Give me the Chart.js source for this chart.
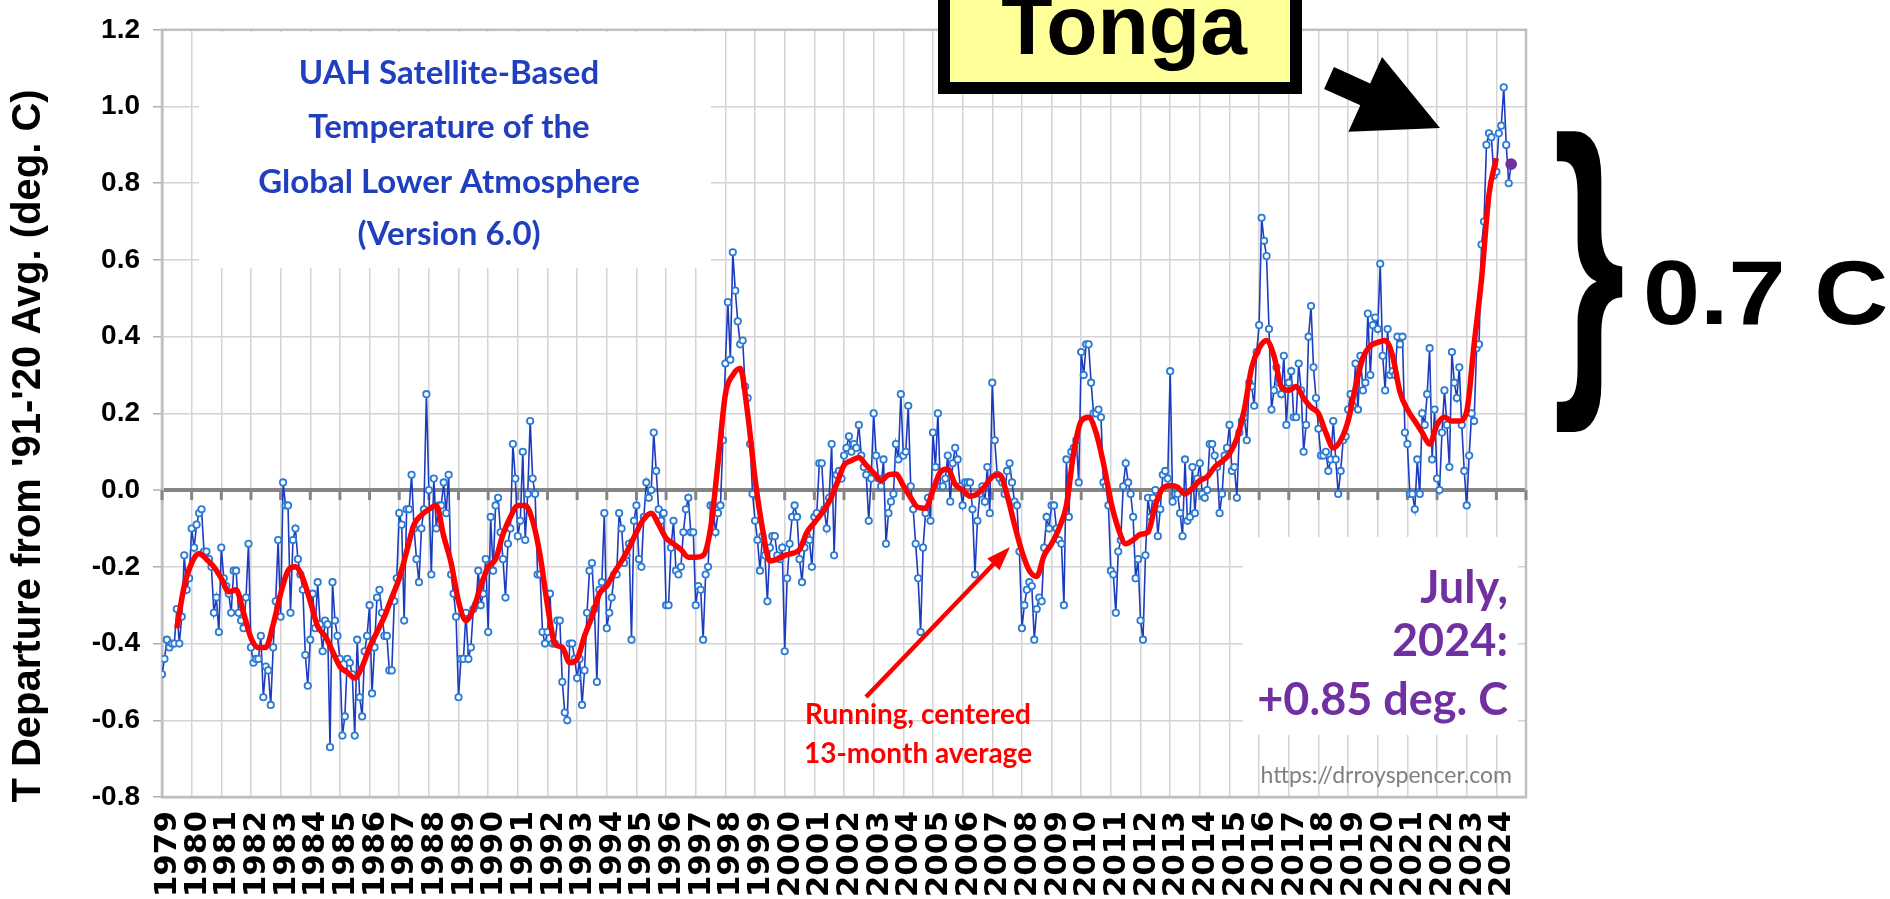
<!DOCTYPE html>
<html>
<head>
<meta charset="utf-8">
<script src="https://cdn.jsdelivr.net/npm/chart.js@4.4.1/dist/chart.umd.min.js"></script>
<style>
  html,body{margin:0;padding:0;background:#fff;overflow:hidden}
  #wrap{width:1890px;height:899px;position:relative}
</style>
</head>
<body>
<div id="wrap"><canvas id="uah" width="1890" height="899"></canvas></div>
<script>
(function(){
  // monthly global LT anomalies, deg C vs 1991-2020
  var uah1979to1989 = [
    -0.48,-0.44,-0.39,-0.41,-0.40,-0.40,-0.31,-0.40,-0.33,-0.17,-0.26,-0.23, // 1979
    -0.10,-0.15,-0.09,-0.06,-0.05,-0.16,-0.16,-0.18,-0.20,-0.32,-0.28,-0.37, // 1980
    -0.15,-0.23,-0.25,-0.27,-0.32,-0.21,-0.21,-0.32,-0.34,-0.36,-0.28,-0.14, // 1981
    -0.41,-0.45,-0.44,-0.44,-0.38,-0.54,-0.46,-0.47,-0.56,-0.41,-0.29,-0.13, // 1982
    -0.33, 0.02,-0.04,-0.04,-0.32,-0.13,-0.10,-0.18,-0.22,-0.26,-0.43,-0.51, // 1983
    -0.39,-0.27,-0.36,-0.24,-0.35,-0.42,-0.34,-0.35,-0.67,-0.24,-0.34,-0.38, // 1984
    -0.44,-0.64,-0.59,-0.44,-0.45,-0.48,-0.64,-0.39,-0.54,-0.59,-0.42,-0.38, // 1985
    -0.30,-0.53,-0.41,-0.28,-0.26,-0.32,-0.38,-0.38,-0.47,-0.47,-0.29,-0.23, // 1986
    -0.06,-0.09,-0.34,-0.05,-0.05, 0.04,-0.10,-0.18,-0.24,-0.10,-0.05, 0.25, // 1987
     0.00,-0.22, 0.03,-0.10,-0.04,-0.04, 0.02,-0.06, 0.04,-0.22,-0.27,-0.33, // 1988
    -0.54,-0.44,-0.44,-0.32,-0.44,-0.41,-0.31,-0.30,-0.21,-0.30,-0.27,-0.18  // 1989
  ];
  var uah1990to1999 = [
    -0.37,-0.07,-0.21,-0.04,-0.02,-0.11,-0.18,-0.28,-0.14,-0.10, 0.12, 0.03, // 1990
    -0.12,-0.08, 0.10,-0.13,-0.01, 0.18, 0.03,-0.01,-0.22,-0.22,-0.37,-0.40, // 1991
    -0.37,-0.27,-0.40,-0.40,-0.34,-0.34,-0.50,-0.58,-0.60,-0.40,-0.40,-0.44, // 1992
    -0.49,-0.44,-0.56,-0.47,-0.32,-0.21,-0.19,-0.31,-0.50,-0.26,-0.24,-0.06, // 1993
    -0.36,-0.32,-0.28,-0.22,-0.22,-0.06,-0.10,-0.19,-0.17,-0.14,-0.39,-0.08, // 1994
    -0.04,-0.18,-0.20,-0.07, 0.02,-0.02, 0.00, 0.15, 0.05,-0.05,-0.08,-0.06, // 1995
    -0.30,-0.30,-0.15,-0.08,-0.21,-0.22,-0.20,-0.11,-0.05,-0.02,-0.11,-0.11, // 1996
    -0.30,-0.25,-0.26,-0.39,-0.22,-0.20,-0.04,-0.04,-0.11,-0.06,-0.04, 0.13, // 1997
     0.33, 0.49, 0.34, 0.62, 0.52, 0.44, 0.38, 0.39, 0.27, 0.24, 0.12,-0.01, // 1998
    -0.08,-0.13,-0.21,-0.12,-0.17,-0.29,-0.15,-0.12,-0.12,-0.17,-0.18,-0.15  // 1999
  ];
  var uah2000to2009 = [
    -0.42,-0.23,-0.14,-0.07,-0.04,-0.07,-0.18,-0.24,-0.15,-0.12,-0.13,-0.20, // 2000
    -0.07,-0.06, 0.07, 0.07,-0.05,-0.10,-0.02, 0.12,-0.17, 0.04, 0.05, 0.03, // 2001
     0.09, 0.11, 0.14, 0.10, 0.12, 0.11, 0.17, 0.09, 0.06, 0.04,-0.08, 0.03, // 2002
     0.20, 0.09, 0.03, 0.01, 0.08,-0.14,-0.06,-0.03,-0.01, 0.12, 0.08, 0.25, // 2003
     0.09, 0.10, 0.22, 0.01,-0.05,-0.14,-0.23,-0.37,-0.15,-0.06,-0.02,-0.08, // 2004
     0.15, 0.06, 0.20, 0.01, 0.01, 0.03, 0.09,-0.03, 0.07, 0.11, 0.08, 0.01, // 2005
    -0.04, 0.02, 0.02, 0.02,-0.05,-0.22,-0.08,-0.01, 0.01,-0.03, 0.06,-0.06, // 2006
     0.28, 0.13, 0.04, 0.03, 0.02,-0.01, 0.05, 0.07, 0.02,-0.03,-0.04,-0.16, // 2007
    -0.36,-0.30,-0.26,-0.24,-0.25,-0.39,-0.31,-0.28,-0.29,-0.15,-0.07,-0.10, // 2008
    -0.04,-0.04,-0.10,-0.13,-0.14,-0.30, 0.08,-0.07, 0.10, 0.11, 0.13, 0.02  // 2009
  ];
  var uah2010to2019 = [
     0.36, 0.30, 0.38, 0.38, 0.28, 0.20, 0.20, 0.21, 0.19, 0.02, 0.01,-0.04, // 2010
    -0.21,-0.22,-0.32,-0.16,-0.13, 0.01, 0.07, 0.02,-0.01,-0.07,-0.23,-0.18, // 2011
    -0.34,-0.39,-0.17,-0.02,-0.07,-0.02, 0.00,-0.12,-0.05, 0.04, 0.05, 0.03, // 2012
     0.31,-0.03,-0.01,-0.01,-0.06,-0.12, 0.08,-0.08,-0.07, 0.06,-0.06, 0.03, // 2013
     0.07,-0.01,-0.02, 0.00, 0.12, 0.12, 0.09, 0.06,-0.06,-0.01, 0.09, 0.11, // 2014
     0.17, 0.05, 0.06,-0.02, 0.15, 0.18, 0.19, 0.13, 0.28, 0.27, 0.22, 0.36, // 2015
     0.43, 0.71, 0.65, 0.61, 0.42, 0.21, 0.26, 0.32, 0.28, 0.25, 0.35, 0.17, // 2016
     0.28, 0.31, 0.19, 0.19, 0.33, 0.26, 0.10, 0.17, 0.40, 0.48, 0.32, 0.24, // 2017
     0.16, 0.09, 0.09, 0.10, 0.05, 0.08, 0.18, 0.08,-0.01, 0.05, 0.13, 0.14, // 2018
     0.21, 0.25, 0.22, 0.33, 0.21, 0.35, 0.26, 0.28, 0.46, 0.30, 0.43, 0.45  // 2019
  ];
  var uah2020to2024 = [
     0.42, 0.59, 0.35, 0.26, 0.42, 0.30, 0.31, 0.30, 0.40, 0.38, 0.40, 0.15, // 2020
     0.12,-0.01,-0.01,-0.05, 0.08,-0.01, 0.20, 0.17, 0.25, 0.37, 0.08, 0.21, // 2021
     0.03, 0.00, 0.15, 0.26, 0.17, 0.06, 0.36, 0.28, 0.24, 0.32, 0.17, 0.05, // 2022
    -0.04, 0.09, 0.20, 0.18, 0.37, 0.38, 0.64, 0.70, 0.90, 0.93, 0.92, 0.82, // 2023
     0.83, 0.93, 0.95, 1.05, 0.90, 0.80, 0.85                                // 2024 Jan-Jul
  ];
  // red curve (running, centered 13-month average), read every 3 months: Jan/Apr/Jul/Oct, from Jul 1979
  var runningMean13 = [
                  -0.36,-0.25,   // 1979
    -0.19,-0.165,-0.18,-0.20,    // 1980
    -0.23,-0.265,-0.26,-0.32,    // 1981
    -0.385,-0.41,-0.41,-0.35,    // 1982
    -0.27,-0.21,-0.20,-0.23,     // 1983
    -0.29,-0.355,-0.38,-0.42,    // 1984
    -0.46,-0.475,-0.49,-0.46,    // 1985
    -0.41,-0.37,-0.33,-0.28,     // 1986
    -0.23,-0.16,-0.09,-0.065,    // 1987
    -0.05,-0.04,-0.12,-0.19,     // 1988
    -0.29,-0.34,-0.31,-0.25,     // 1989
    -0.20,-0.18,-0.115,-0.07,    // 1990
    -0.04,-0.04,-0.08,-0.17,     // 1991
    -0.30,-0.40,-0.41,-0.45,     // 1992
    -0.44,-0.38,-0.33,-0.27,     // 1993
    -0.25,-0.215,-0.185,-0.15,   // 1994
    -0.11,-0.075,-0.06,-0.09,    // 1995
    -0.125,-0.14,-0.155,-0.175,  // 1996
    -0.175,-0.17,-0.10,0.07,     // 1997
    0.25,0.30,0.317,0.20,        // 1998
    0.03,-0.10,-0.185,-0.18,     // 1999
    -0.17,-0.165,-0.155,-0.11,   // 2000
    -0.085,-0.06,-0.03,0.015,    // 2001
    0.065,0.077,0.085,0.065,     // 2002
    0.045,0.025,0.04,0.042,      // 2003
    0.012,-0.02,-0.045,-0.047,   // 2004
    0.0,0.047,0.055,0.015,       // 2005
    0.0,-0.016,-0.01,0.01,       // 2006
    0.035,0.04,-0.013,-0.09,     // 2007
    -0.16,-0.21,-0.225,-0.17,    // 2008
    -0.14,-0.10,-0.04,0.10,      // 2009
    0.18,0.19,0.15,0.07,         // 2010
    -0.03,-0.10,-0.14,-0.13,     // 2011
    -0.115,-0.11,-0.04,0.005,    // 2012
    0.012,0.008,-0.01,0.005,     // 2013
    0.025,0.035,0.06,0.075,      // 2014
    0.095,0.135,0.21,0.32,       // 2015
    0.37,0.39,0.35,0.27,         // 2016
    0.26,0.27,0.24,0.216,        // 2017
    0.20,0.15,0.11,0.13,         // 2018
    0.18,0.27,0.345,0.376,       // 2019
    0.385,0.39,0.35,0.256,       // 2020
    0.21,0.18,0.15,0.12,         // 2021
    0.17,0.19,0.18,0.18,         // 2022
    0.205,0.38,0.55,0.77,        // 2023
    0.865                        // 2024 Jan
  ];
  var years = [1979,1980,1981,1982,1983,1984,1985,1986,1987,1988,1989,1990,1991,1992,1993,1994,
    1995,1996,1997,1998,1999,2000,2001,2002,2003,2004,2005,2006,2007,2008,2009,2010,2011,2012,
    2013,2014,2015,2016,2017,2018,2019,2020,2021,2022,2023,2024];
  var yTicks = [-0.8,-0.6,-0.4,-0.2,0,0.2,0.4,0.6,0.8,1.0,1.2];
  var titleLines = ['UAH Satellite-Based','Temperature of the','Global Lower Atmosphere','(Version 6.0)'];
  var latestLines = ['July,','2024:','+0.85 deg. C'];

  var monthly = [].concat(uah1979to1989, uah1990to1999, uah2000to2009, uah2010to2019, uah2020to2024);
  var bluePts = monthly.map(function(v,i){ return {x: 1979 + i/12, y: v}; });
  var redPts = runningMean13.map(function(v,i){ return {x: 1979.5 + i/4, y: v}; });
  var lastIdx = bluePts.length - 1;

  function arrow(ctx, x1, y1, x2, y2, shaftW, headL, headW, color){
    var dx = x2-x1, dy = y2-y1, len = Math.sqrt(dx*dx+dy*dy);
    var ux = dx/len, uy = dy/len, nx = -uy, ny = ux;
    var bx = x2 - ux*headL, by = y2 - uy*headL;
    ctx.fillStyle = color;
    ctx.beginPath();
    ctx.moveTo(x1 + nx*shaftW/2, y1 + ny*shaftW/2);
    ctx.lineTo(bx + nx*shaftW/2, by + ny*shaftW/2);
    ctx.lineTo(bx + nx*headW/2, by + ny*headW/2);
    ctx.lineTo(x2, y2);
    ctx.lineTo(bx - nx*headW/2, by - ny*headW/2);
    ctx.lineTo(bx - nx*shaftW/2, by - ny*shaftW/2);
    ctx.lineTo(x1 - nx*shaftW/2, y1 - ny*shaftW/2);
    ctx.closePath();
    ctx.fill();
  }

  var decor = {
    id: 'decor',
    beforeDatasetsDraw: function(chart){
      var ctx = chart.ctx, a = chart.chartArea, xs = chart.scales.x, ys = chart.scales.y;
      ctx.save();
      // white boxes behind the in-plot notes
      ctx.fillStyle = '#fff';
      ctx.fillRect(199, a.top + 2, 711 - 199, 268 - a.top - 2);
      ctx.fillRect(1243, 537, 1518 - 1243, 735 - 537);
      // right + top frame
      ctx.strokeStyle = '#bfbfbf'; ctx.lineWidth = 2.5;
      ctx.strokeRect(a.left, a.top, a.right - a.left, a.bottom - a.top);
      // little year ticks hanging under the zero line
      var y0 = ys.getPixelForValue(0);
      ctx.strokeStyle = '#858585'; ctx.lineWidth = 3;
      years.concat([2025]).forEach(function(yr){
        var x = xs.getPixelForValue(yr);
        ctx.beginPath(); ctx.moveTo(x, y0); ctx.lineTo(x, y0 + 10); ctx.stroke();
      });
      ctx.restore();
    },
    afterDraw: function(chart){
      var ctx = chart.ctx;
      ctx.save();
      // y axis title
      ctx.save();
      ctx.translate(29, 446); ctx.rotate(-Math.PI/2);
      ctx.font = 'bold 40px "Liberation Sans", Arial, sans-serif';
      ctx.fillStyle = '#000'; ctx.textAlign = 'center'; ctx.textBaseline = 'middle';
      ctx.fillText("T Departure from '91-'20 Avg. (deg. C)", 0, 0);
      ctx.restore();

      // title
      ctx.font = 'bold 33px Lato, "Open Sans", sans-serif';
      ctx.fillStyle = '#1f3fbf'; ctx.textAlign = 'center'; ctx.textBaseline = 'alphabetic';
      [84, 138, 193, 245].forEach(function(y, i){ ctx.fillText(titleLines[i], 449, y); });

      // latest value
      ctx.font = 'bold 45px Lato, "Open Sans", sans-serif';
      ctx.fillStyle = '#7030a0'; ctx.textAlign = 'right';
      [603, 656, 715].forEach(function(y, i){ ctx.fillText(latestLines[i], 1508, y); });

      // url
      ctx.font = '23px Lato, "Open Sans", sans-serif';
      ctx.fillStyle = '#7f7f7f';
      ctx.fillText('https://drroyspencer.com', 1512, 783);

      // running mean note + arrow
      ctx.font = 'bold 28px Lato, "Open Sans", sans-serif';
      ctx.fillStyle = '#ff0000'; ctx.textAlign = 'center';
      ctx.fillText('Running, centered', 918, 724);
      ctx.fillText('13-month average', 918, 763);
      arrow(ctx, 866, 697, 1010, 547, 4.5, 24, 17, '#ff0000');

      // Tonga box
      ctx.fillStyle = '#ffff99';
      ctx.fillRect(944, -20, 352, 108);
      ctx.strokeStyle = '#000'; ctx.lineWidth = 12;
      ctx.strokeRect(944, -20, 352, 108);
      ctx.fillStyle = '#000';
      ctx.font = 'bold 84px "Liberation Sans", Arial, sans-serif';
      ctx.fillText('Tonga', 1124, 54);
      arrow(ctx, 1329, 78, 1440, 128, 24, 82, 82, '#000');

      // brace + 0.7 C
      ctx.save();
      ctx.translate(1553, 365); ctx.scale(0.74, 1.29);
      ctx.font = 'bold 250px "Liberation Sans", Arial, sans-serif';
      ctx.textAlign = 'left';
      ctx.fillText('}', 0, 0);
      ctx.restore();
      ctx.save();
      ctx.translate(1643, 324); ctx.scale(1.14, 1);
      ctx.font = 'bold 90px "Liberation Sans", Arial, sans-serif';
      ctx.textAlign = 'left';
      ctx.fillText('0.7 C', 0, 0);
      ctx.restore();
      ctx.restore();
    }
  };

  new Chart(document.getElementById('uah'), {
    type: 'line',
    data: {
      datasets: [
        { data: redPts, borderColor: '#ff0000', borderWidth: 5.5, pointRadius: 0,
          cubicInterpolationMode: 'monotone', fill: false },
        { data: bluePts, borderColor: '#1c3cc0', borderWidth: 1.6, tension: 0,
          pointRadius: function(c){ return c.dataIndex === lastIdx ? 5 : 3.2; },
          pointBorderWidth: 1.8,
          pointBorderColor: function(c){ return c.dataIndex === lastIdx ? '#7030a0' : '#2c7bd4'; },
          pointBackgroundColor: function(c){ return c.dataIndex === lastIdx ? '#7030a0' : '#ffffff'; },
          fill: false }
      ]
    },
    options: {
      responsive: false, animation: false, devicePixelRatio: 1, events: [],
      layout: { padding: { left: 62, right: 364, top: 24, bottom: 0 } },
      plugins: { legend: { display: false }, tooltip: { enabled: false } },
      scales: {
        x: {
          type: 'linear', min: 1979, max: 2025,
          afterBuildTicks: function(s){ s.ticks = years.concat([2025]).map(function(v){ return {value: v}; }); },
          afterFit: function(s){ s.height = 102; },
          grid: { color: '#d4d4d4', lineWidth: 1.5, drawTicks: false },
          border: { color: '#bfbfbf', width: 2.5 },
          ticks: {
            autoSkip: false, minRotation: 90, maxRotation: 90, padding: 14, labelOffset: 6, color: '#000',
            font: { family: '"DejaVu Sans", Verdana, sans-serif', weight: 'bold', size: 31 },
            callback: function(v){ return v <= 2024 ? String(v) : ''; }
          }
        },
        y: {
          min: -0.8, max: 1.2,
          afterBuildTicks: function(s){ s.ticks = yTicks.map(function(v){ return {value: v}; }); },
          afterFit: function(s){ s.width = 100; },
          grid: {
            color: function(c){ return c.tick && c.tick.value === 0 ? '#858585' : '#d4d4d4'; },
            lineWidth: function(c){ return c.tick && c.tick.value === 0 ? 4 : 1.5; },
            tickLength: 9, tickColor: '#b0b0b0', tickWidth: 1.5
          },
          border: { color: '#bfbfbf', width: 2.5 },
          ticks: {
            padding: 13, color: '#000',
            font: { family: '"Liberation Sans Narrow", "Liberation Sans", Arial, sans-serif', weight: 'bold', size: 28 },
            callback: function(v){ return Number(v).toFixed(1); }
          }
        }
      }
    },
    plugins: [decor]
  });
})();
</script>
</body>
</html>
